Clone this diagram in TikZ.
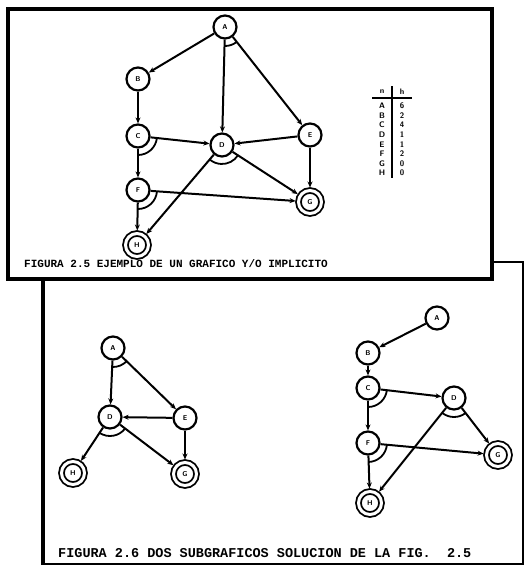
\documentclass[tikz,border=0pt]{standalone}
\usepackage{fontspec}
\setmonofont{Liberation Mono}
\usetikzlibrary{positioning,calc}
\usetikzlibrary{arrows.meta}

% arco Y entre las aristas que salen de #1 hacia #2 y #3
\newcommand{\yarc}[3]{%
  \draw[line width=1.8pt] let \p1 = ($(#2)-(#1)$), \p2 = ($(#3)-(#1)$),
    \n1 = {atan2(\y1,\x1)}, \n2 = {atan2(\y2,\x2)} in
    ($(#1)+(\n1:19pt)$) arc[start angle=\n1, end angle=\n2, radius=19pt];}

\begin{document}
\begin{tikzpicture}[
  x = 1pt,
  y = 1pt,
  state/.style = {
    draw,
    circle,
    fill = white,
    line width = 2.2pt,
    minimum size = 23pt,
    inner sep = 0pt,
    font = \fontsize{7}{7}\selectfont\sffamily\bfseries,
  },
  goal/.style = {
    state,
    double,
    double distance = 3pt,
    line width = 1.8pt,
    outer sep = 3pt,
  },
  caption/.style = {
    anchor = west,
    inner sep = 0pt,
    font = \ttfamily\bfseries,
  },
  cell/.style = {
    inner sep = 0pt,
    font = \fontsize{8}{8}\selectfont\sffamily\bfseries,
  },
  >={Stealth[length=6pt,width=5pt]},
  every edge/.style = {draw, line width = 2pt},
]

  \useasboundingbox (0,0) rectangle (526,-565);

  % marco de la fig. 2.6 (queda por debajo)
  \draw[line width=1.4pt] (43,-262) rectangle (523,-564);
  \draw[line width=3.8pt] (43,-262) -- (43,-565);

  % marco de la fig. 2.5
  \draw[line width=4pt, fill=white] (8,-9) rectangle (492,-279);

  % ---- fig. 2.5 ----
  \node[state] (a) at (225,-27)  {A};
  \node[state] (b) at (138,-79)  {B};
  \node[state] (c) at (138,-136) {C};
  \node[state] (d) at (222,-145) {D};
  \node[state] (e) at (310,-135) {E};
  \node[state] (f) at (138,-190) {F};
  \node[goal]  (g) at (310,-202) {G};
  \node[goal]  (h) at (137,-245) {H};

  \path[->] (a) edge (b);
  \path[->] (a) edge (d);
  \path[->] (a) edge (e);
  \path[->] (b) edge (c);
  \path[->] (c) edge (d);
  \path[->] (c) edge (f);
  \path[->] (e) edge (d);
  \path[->] (e) edge (g);
  \path[->] (d) edge (g);
  \path[->] (d) edge (h);
  \path[->] (f) edge (g);
  \path[->] (f) edge (h);

  \yarc{a}{d}{e}
  \yarc{c}{d}{f}
  \yarc{d}{g}{h}
  \yarc{f}{g}{h}

  % tabla de valores h
  \draw[line width=1.8pt] (392,-86) -- (392,-178);
  \draw[line width=1.8pt] (372,-98) -- (412,-98);
  \node[cell] (tn) at (382,-92) {n};
  \node[cell] (th) at (402,-92) {h};
  \foreach \n/\h [count=\i from 0] in {A/6,B/2,C/4,D/1,E/1,F/2,G/0,H/0} {
    \node[cell] (tn\i) at (382,-106-9.6*\i) {\n};
    \node[cell] (th\i) at (402,-106-9.6*\i) {\h};
  }

  \node[caption, font=\ttfamily\bfseries\fontsize{11}{11}\selectfont] (cap1) at (24,-264)
    {FIGURA 2.5 EJEMPLO DE UN GRAFICO Y/O IMPLICITO};

  % ---- fig. 2.6, subgrafico izquierdo ----
  \node[state] (la) at (113,-348) {A};
  \node[state] (ld) at (110,-417) {D};
  \node[state] (le) at (185,-418) {E};
  \node[goal]  (lh) at (73,-473)  {H};
  \node[goal]  (lg) at (185,-474) {G};

  \path[->] (la) edge (ld);
  \path[->] (la) edge (le);
  \path[->] (le) edge (ld);
  \path[->] (le) edge (lg);
  \path[->] (ld) edge (lh);
  \path[->] (ld) edge (lg);

  \yarc{la}{ld}{le}
  \yarc{ld}{lg}{lh}

  % ---- fig. 2.6, subgrafico derecho ----
  \node[state] (ra) at (437,-318) {A};
  \node[state] (rb) at (368,-353) {B};
  \node[state] (rc) at (368,-388) {C};
  \node[state] (rd) at (454,-398) {D};
  \node[state] (rf) at (368,-443) {F};
  \node[goal]  (rg) at (498,-455) {G};
  \node[goal]  (rh) at (370,-503) {H};

  \path[->] (ra) edge (rb);
  \path[->] (rb) edge (rc);
  \path[->] (rc) edge (rd);
  \path[->] (rc) edge (rf);
  \path[->] (rf) edge (rg);
  \path[->] (rf) edge (rh);
  \path[->] (rd) edge (rh);
  \path[->] (rd) edge (rg);

  \yarc{rc}{rd}{rf}
  \yarc{rf}{rg}{rh}
  \yarc{rd}{rg}{rh}

  \node[caption, font=\ttfamily\bfseries\fontsize{13.5}{13.5}\selectfont] (cap2) at (58,-553)
    {FIGURA 2.6 DOS SUBGRAFICOS SOLUCION DE LA FIG.~~2.5};

\end{tikzpicture}
\end{document}
